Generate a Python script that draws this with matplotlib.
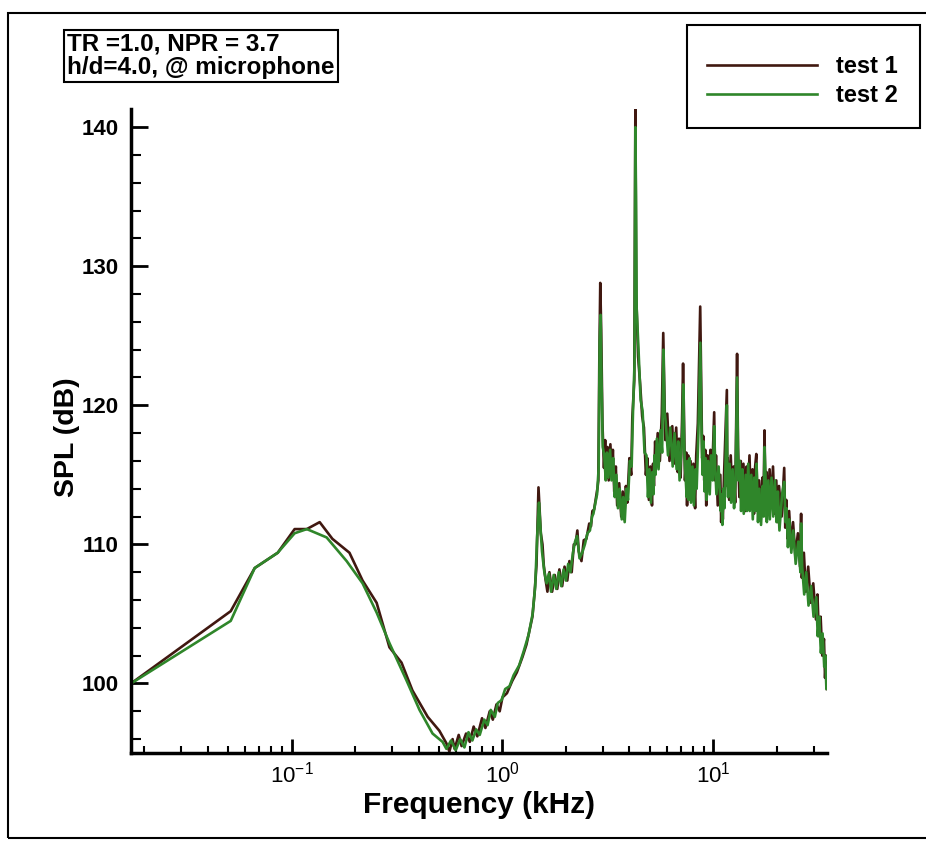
import matplotlib
matplotlib.use("Agg")
import matplotlib.pyplot as plt
from matplotlib.patches import Rectangle
from matplotlib.ticker import LogLocator, MultipleLocator

plt.rcParams['font.family'] = ['Liberation Sans', 'DejaVu Sans']
plt.rcParams['mathtext.fontset'] = 'custom'
plt.rcParams['mathtext.rm'] = 'Liberation Sans'
plt.rcParams['mathtext.it'] = 'Liberation Sans'
plt.rcParams['mathtext.bf'] = 'Liberation Sans:bold'

# spectra, frequency in kHz, SPL in dB
freq1 = [0.0173, 0.0514, 0.0668, 0.0859, 0.1033, 0.118, 0.1358, 0.156, 0.188, 0.217,
         0.253, 0.291, 0.332, 0.374, 0.442, 0.502, 0.542, 0.56, 0.58, 0.593,
         0.62, 0.64, 0.672, 0.70, 0.73, 0.76, 0.80, 0.83, 0.87, 0.90,
         0.937, 0.97, 1.0, 1.05, 1.114, 1.17, 1.244, 1.30, 1.387, 1.42,
         1.45, 1.47, 1.482, 1.50, 1.52, 1.548, 1.57, 1.60, 1.634, 1.67,
         1.72, 1.77, 1.82, 1.862, 1.92, 1.97, 2.03, 2.078, 2.13, 2.18,
         2.22, 2.266, 2.30, 2.37, 2.43, 2.50, 2.58, 2.63, 2.67, 2.72,
         2.78, 2.82, 2.85, 2.88, 2.91,
         2.94, 2.98, 3.03, 3.07, 3.11, 3.15, 3.19, 3.25, 3.30, 3.34,
         3.39, 3.45, 3.50, 3.58, 3.66, 3.72, 3.78, 3.85, 3.91, 4.00,
         4.08, 4.13, 4.22, 4.27, 4.31, 4.40, 4.50, 4.60, 4.69, 4.79,
         4.87, 4.95, 5.03, 5.12, 5.18, 5.23, 5.30, 5.35, 5.45, 5.58,
         5.70, 5.79, 5.85, 5.92, 6.05, 6.20, 6.39, 6.50, 6.67, 6.78,
         6.88, 7.00, 7.11, 7.19, 7.26, 7.34, 7.45, 7.51, 7.60, 7.67,
         7.80, 7.93, 8.05, 8.20, 8.30, 8.45, 8.67, 8.77, 8.86, 8.96,
         9.06, 9.16, 9.26, 9.40, 9.57, 9.70, 9.89, 10.1, 10.2, 10.3,
         10.5, 10.8, 10.9, 11.0, 11.1, 11.25, 11.6, 11.65, 11.7, 11.9,
         12.1, 12.3, 12.5, 12.7, 12.97, 13.1, 13.3, 13.5, 13.7, 13.9,
         14.2, 14.4, 14.6, 14.85, 15.1, 15.35, 15.6, 15.8, 16.0, 16.25,
         16.5, 16.8, 17.1, 17.3, 17.5, 17.7, 17.9, 18.2, 18.5, 18.85,
         19.2, 19.55, 19.9, 20.2, 20.5, 21.1, 21.7, 21.95, 22.2, 22.55,
         22.9, 23.4, 23.9, 24.5, 25.2, 25.8, 26.1, 26.3, 26.9, 27.5,
         28.2, 29.0, 29.8, 30.7, 31.2, 31.7, 32.3, 32.9, 33.5, 33.9,
         34.3, 34.6]
spl1 = [100.0, 105.2, 108.3, 109.4, 111.1, 111.1, 111.6, 110.4, 109.4, 107.4,
        105.8, 102.6, 101.5, 99.5, 97.6, 96.6, 95.7, 95.1, 96.0, 95.3,
        96.3, 95.5, 96.4, 95.8, 96.9, 96.2, 97.5, 96.8, 98.0, 97.4,
        98.5, 98.0, 99.0, 99.3, 100.2, 100.8, 101.9, 102.8, 104.8, 106.5,
        108.5, 112.0, 114.1, 112.5, 110.8, 110.0, 108.5, 107.5, 106.6, 108.0,
        106.6, 107.8, 106.8, 108.2, 107.0, 108.4, 107.4, 108.8, 108.0, 110.0,
        110.0, 111.0, 109.5, 108.8, 110.3, 110.4, 111.5, 111.3, 112.4, 112.5,
        113.4, 114.0, 114.6, 123.2, 128.8,
        125.4, 118.7, 115.5, 117.5, 114.8, 117.0, 114.6, 117.2, 115.0, 116.8,
        113.8, 115.6, 112.8, 114.4, 112.0, 113.8, 111.8, 114.2, 113.0, 116.2,
        115.0, 119.1, 121.8, 141.4, 128.0, 123.5, 121.5, 119.2, 118.4, 115.0,
        116.2, 113.2, 115.6, 112.8, 115.8, 114.2, 117.4, 115.8, 118.0, 116.0,
        119.4, 125.2, 121.6, 117.5, 119.4, 116.0, 118.5, 115.8, 118.4, 115.2,
        117.6, 114.8, 118.9, 123.0, 119.4, 114.6, 116.6, 112.8, 116.4, 113.8,
        116.0, 113.4, 115.8, 112.6, 116.4, 118.7, 127.1, 121.0, 116.2, 117.8,
        114.6, 116.8, 112.8, 116.4, 114.0, 116.8, 115.2, 119.5, 114.6, 116.4,
        112.8, 115.0, 111.6, 113.8, 111.8, 115.0, 121.1, 114.2, 116.2, 113.2,
        116.4, 113.6, 115.6, 113.0, 123.7, 117.0, 113.4, 116.0, 112.6, 115.8,
        112.4, 115.6, 113.2, 116.4, 112.6, 115.4, 112.2, 115.6, 116.5, 112.4,
        114.6, 111.8, 114.8, 112.6, 118.2, 112.8, 115.2, 112.4, 115.4, 112.8,
        115.6, 112.2, 114.6, 111.6, 114.2, 112.0, 115.5, 111.2, 113.2, 110.4,
        112.4, 109.8, 111.6, 109.2, 110.8, 108.4, 112.2, 107.6, 109.4, 106.6,
        108.4, 105.8, 107.2, 104.6, 106.4, 103.4, 104.8, 102.0, 103.2, 100.4,
        102.0, 99.6]

freq2 = [0.0173, 0.0514, 0.0668, 0.0859, 0.1033, 0.118, 0.1465, 0.1823, 0.217, 0.253,
         0.291, 0.351, 0.404, 0.466, 0.52, 0.542, 0.57, 0.60, 0.63, 0.66,
         0.69, 0.72, 0.75, 0.78, 0.82, 0.85, 0.88, 0.92, 0.95, 0.99,
         1.03, 1.08, 1.13, 1.20, 1.26, 1.33, 1.39, 1.43, 1.46, 1.49,
         1.51, 1.54, 1.58, 1.62, 1.66, 1.70, 1.75, 1.80, 1.85, 1.90,
         1.95, 2.00, 2.05, 2.10, 2.16, 2.21, 2.26, 2.32, 2.39, 2.46,
         2.53, 2.60, 2.66, 2.70, 2.76, 2.81, 2.86, 2.89, 2.92,
         2.95, 2.99, 3.04, 3.09, 3.13, 3.18, 3.24, 3.29, 3.35, 3.41,
         3.47, 3.53, 3.60, 3.68, 3.74, 3.80, 3.87, 3.94, 4.02, 4.10,
         4.16, 4.23, 4.27, 4.30, 4.33, 4.42, 4.52, 4.62, 4.72, 4.82,
         4.90, 4.98, 5.06, 5.14, 5.20, 5.26, 5.32, 5.40, 5.50, 5.62,
         5.72, 5.80, 5.87, 5.95, 6.10, 6.25, 6.42, 6.55, 6.70, 6.82,
         6.92, 7.04, 7.13, 7.20, 7.28, 7.37, 7.48, 7.54, 7.63, 7.72,
         7.84, 7.97, 8.09, 8.24, 8.34, 8.50, 8.68, 8.80, 8.90, 9.00,
         9.10, 9.20, 9.30, 9.45, 9.62, 9.76, 9.94, 10.1, 10.22, 10.35,
         10.6, 10.85, 10.95, 11.05, 11.15, 11.3, 11.6, 11.67, 11.75, 11.95,
         12.15, 12.35, 12.55, 12.75, 12.97, 13.15, 13.35, 13.55, 13.75, 13.95,
         14.25, 14.45, 14.65, 14.9, 15.15, 15.4, 15.65, 15.85, 16.05, 16.3,
         16.55, 16.85, 17.15, 17.35, 17.5, 17.75, 17.95, 18.25, 18.55, 18.9,
         19.25, 19.6, 19.95, 20.25, 20.6, 21.2, 21.7, 22.0, 22.25, 22.6,
         22.95, 23.45, 23.95, 24.6, 25.3, 25.9, 26.1, 26.4, 27.0, 27.6,
         28.3, 29.1, 29.9, 30.8, 31.3, 31.8, 32.4, 33.0, 33.6, 34.0,
         34.4, 34.6]
spl2 = [100.0, 104.5, 108.3, 109.4, 110.8, 111.1, 110.5, 108.8, 107.2, 105.1,
        102.9, 100.2, 98.1, 96.4, 95.8, 95.3, 95.9, 95.2, 96.0, 95.4,
        96.5, 95.9, 96.7, 96.3, 97.4, 97.0, 98.1, 97.6, 98.6, 98.8,
        99.6, 99.8, 100.6, 101.3, 102.3, 103.5, 105.0, 107.0, 110.5, 113.0,
        111.5, 109.5, 108.0, 107.2, 107.9, 106.6, 107.8, 106.8, 108.0, 107.0,
        108.2, 107.4, 108.6, 108.0, 109.4, 110.2, 110.6, 109.0, 109.4, 110.0,
        110.8, 111.0, 112.0, 112.2, 113.0, 113.6, 115.5, 124.5, 126.5,
        122.0, 117.0, 116.4, 114.6, 116.6, 114.8, 116.8, 114.6, 116.2, 113.4,
        115.0, 112.6, 114.0, 111.8, 113.4, 111.6, 114.0, 113.2, 116.0, 115.6,
        119.5, 123.0, 140.0, 135.0, 127.0, 124.0, 120.4, 119.6, 116.6, 116.4,
        113.4, 115.4, 113.0, 115.2, 113.6, 116.4, 115.0, 117.6, 115.4, 118.2,
        116.6, 124.0, 119.6, 118.8, 116.4, 118.4, 115.6, 118.0, 115.4, 117.4,
        114.6, 116.6, 118.0, 121.5, 117.0, 115.2, 113.4, 116.0, 113.2, 116.2,
        113.0, 115.6, 112.8, 115.4, 114.0, 118.0, 124.5, 118.0, 115.0, 117.4,
        113.8, 116.2, 113.2, 116.0, 113.6, 116.4, 114.6, 118.5, 115.4, 113.6,
        115.6, 112.4, 113.6, 111.4, 114.0, 112.6, 120.0, 115.0, 113.4, 115.8,
        113.0, 115.4, 112.6, 114.6, 122.0, 114.6, 116.0, 112.4, 115.4, 112.2,
        115.0, 112.4, 115.8, 112.4, 115.0, 111.8, 114.8, 112.4, 115.8, 111.6,
        114.0, 111.4, 114.2, 112.0, 117.0, 114.2, 111.6, 114.6, 111.8, 114.8,
        112.0, 114.6, 111.6, 113.8, 111.0, 113.6, 114.5, 111.6, 112.6, 109.8,
        111.8, 109.4, 111.0, 108.6, 110.2, 108.0, 111.5, 108.4, 106.4, 108.0,
        105.6, 107.0, 104.8, 106.2, 103.4, 104.8, 102.2, 103.6, 101.2, 102.0,
        99.6, 101.0]

labels = ["test 1", "test 2"]
colors = ["#401810", "#2f862a"]

fig = plt.figure(figsize=(9.26, 8.44), dpi=100)
ax = fig.add_axes([0.1415, 0.1078, 0.7515, 0.763])

l1, = ax.plot(freq1, spl1, color=colors[0], lw=1.9)
l2, = ax.plot(freq2, spl2, color=colors[1], lw=1.9)

ax.set_xscale("log")
ax.set_xlim(0.0173, 34.6)
ax.set_ylim(95, 141.3)

ax.spines["top"].set_visible(False)
ax.spines["right"].set_visible(False)
ax.spines["left"].set_linewidth(2.5)
ax.spines["bottom"].set_linewidth(2.5)

ax.xaxis.set_major_locator(LogLocator(base=10))
ax.xaxis.set_minor_locator(LogLocator(base=10, subs=range(2, 10)))
ax.yaxis.set_major_locator(MultipleLocator(10))
ax.yaxis.set_minor_locator(MultipleLocator(2))

ax.tick_params(axis="x", which="major", direction="in", length=10, width=2, labelsize=16, pad=6)
ax.tick_params(axis="x", which="minor", direction="in", length=5, width=1.5)
ax.tick_params(axis="y", which="major", direction="in", length=12, width=2, labelsize=16, pad=9)
ax.tick_params(axis="y", which="minor", direction="in", length=7, width=1.5)
for t in ax.get_yticklabels():
    t.set_fontweight("bold")

ax.set_xlabel("Frequency (kHz)", fontsize=21.5, fontweight="bold", labelpad=3)
ax.set_ylabel("SPL (dB)", fontsize=20.5, fontweight="bold")
ax.yaxis.set_label_coords(-0.073, 0.49)

# annotation box
fig.text(67 / 926, 1 - 33 / 844, "TR =1.0, NPR = 3.7\nh/d=4.0, @ microphone", fontsize=17.5,
         fontweight="bold", va="top", ha="left", linespacing=1.0,
         bbox=dict(boxstyle="square,pad=0.14", fc="white", ec="black", lw=1.5))

# legend
fig.patches.append(Rectangle((687 / 926, 1 - 128 / 844), 233 / 926, 103 / 844,
                             transform=fig.transFigure, fill=False, ec="black", lw=1.5))
fig.legend([l1, l2], labels, loc="upper left", bbox_to_anchor=(707 / 926, 1 - 55 / 844),
           frameon=False, borderpad=0, borderaxespad=0, handlelength=4.66,
           handletextpad=0.8, labelspacing=0.25, prop={"weight": "bold", "size": 17})

# outer frame
fig.patches.append(Rectangle((8 / 926, 1 - 838 / 844), 1.0, 825 / 844,
                             transform=fig.transFigure, fill=False, ec="black", lw=1.5,
                             clip_on=False))

fig.savefig("out.png", dpi=100)
